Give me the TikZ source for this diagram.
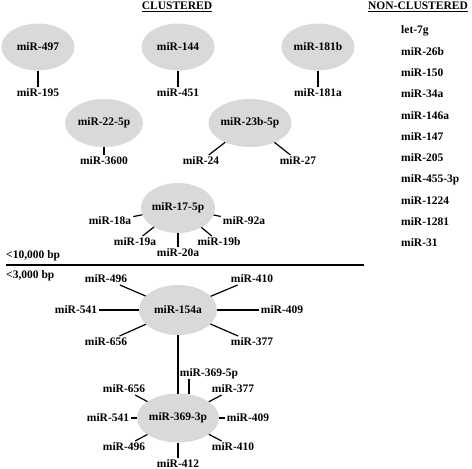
\documentclass[tikz,border=0pt]{standalone}
\usepackage{fontspec}
\setmainfont{Liberation Serif}
\usetikzlibrary{shapes.geometric}
\definecolor{hubgray}{HTML}{D9D9D9}
\newcommand{\mirfont}{\fontsize{11.5}{13}\selectfont\bfseries}
\tikzset{
  hub/.style={ellipse, fill=hubgray, minimum width=73pt, minimum height=47pt, inner sep=0pt, outer sep=0pt, font=\mirfont},
  leaf/.style={inner sep=2pt, text height=7.6pt, text depth=0pt, font=\mirfont},
  link/.style={line width=1.2pt}
}
\begin{document}
\begin{tikzpicture}[x=1pt,y=-1pt]
  \useasboundingbox (0,0) rectangle (472,469);
  % Headings
  \node[leaf, anchor=base] (hclust) at (177,9.6) {\underline{CLUSTERED}};
  \node[leaf, anchor=base] (hnon) at (418,9.6) {\underline{NON-CLUSTERED}};

  % Top row: one partner each
  \foreach \hubname/\leafname/\x [count=\k] in {miR-497/miR-195/38,miR-144/miR-451/178,miR-181b/miR-181a/318} {
    \node[hub] (top\k) at (\x,47) {\hubname};
    \node[leaf] (topleaf\k) at (\x,93) {\leafname};
    \draw[link] (top\k) -- (topleaf\k);
  }

  % Second row
  \node[hub, minimum width=78pt, minimum height=48pt] (h22) at (104,123) {miR-22-5p};
  \node[leaf] (l3600) at (104,161) {miR-3600};
  \draw[link] (h22) -- (l3600);
  \node[hub, minimum width=80pt, minimum height=48pt] (h23b) at (250,123) {miR-23b-5p};
  \node[leaf] (l24) at (201,161) {miR-24};
  \node[leaf] (l27) at (298,161) {miR-27};
  \draw[link] (h23b) -- (l24);
  \draw[link] (h23b) -- (l27);

  % miR-17-5p cluster
  \node[hub, minimum height=50pt] (h17) at (178,208) {miR-17-5p};
  \foreach \leafname/\x/\y [count=\k] in {miR-18a/110/221,miR-92a/244/221,miR-19a/135/242,miR-19b/219/242,miR-20a/178/253} {
    \node[leaf] (c17leaf\k) at (\x,\y) {\leafname};
    \draw[link] (h17) -- (c17leaf\k);
  }

  % Distance split
  \node[leaf, anchor=west] (far) at (4,255) {<10,000 bp};
  \draw[line width=1.8pt] (6,265) -- (364,265);
  \node[leaf, anchor=west] (near) at (4,275) {<3,000 bp};

  % miR-154a cluster
  \node[hub, minimum width=78pt, minimum height=50pt] (h154) at (178,310) {miR-154a};
  \foreach \leafname/\x/\y [count=\k] in {miR-496/106/279,miR-410/252/279,miR-541/76/310,miR-409/282/310,miR-656/106/342,miR-377/252/342} {
    \node[leaf] (c154leaf\k) at (\x,\y) {\leafname};
    \draw[link] (h154) -- (c154leaf\k);
  }

  % miR-369-3p cluster
  \node[hub, minimum height=49pt] (h369) at (178,418) {miR-369-3p};
  \draw[link] (h154) -- (h369);
  \node[leaf] (l5p) at (209,373) {miR-369-5p};
  \draw[link] (h369.65) -- (h369.65 |- l5p.south);
  \foreach \leafname/\x/\y [count=\k] in {miR-377/233/389,miR-656/124/389,miR-541/108/418,miR-409/248/418,miR-496/124/447,miR-410/233/447,miR-412/178/464} {
    \node[leaf] (c369leaf\k) at (\x,\y) {\leafname};
    \draw[link] (h369) -- (c369leaf\k);
  }

  % Non-clustered list
  \foreach \name [count=\k from 0] in {let-7g,miR-26b,miR-150,miR-34a,miR-146a,miR-147,miR-205,miR-455-3p,miR-1224,miR-1281,miR-31} {
    \node[leaf, anchor=west] (nc\k) at (399,{30+21.3*\k}) {\name};
  }
\end{tikzpicture}
\end{document}
